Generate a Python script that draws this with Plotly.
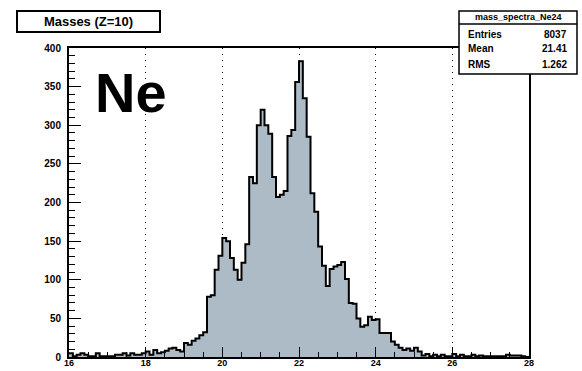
import plotly.graph_objects as go

# Histogram of reconstructed masses for Z=10, 120 bins of width 0.1 from 16 to 28
bin_lo = 16.0
bin_width = 0.1
counts = [
    5, 1, 3, 5, 3, 1, 1, 5, 1, 1,            # 16.0 - 16.9
    1, 1, 3, 3, 5, 2, 5, 3, 3, 5,            # 17.0 - 17.9
    7, 3, 9, 5, 6, 8, 11, 12, 9, 7,          # 18.0 - 18.9
    18, 16, 21, 24, 28, 32, 78, 80, 113, 131,          # 19.0 - 19.9
    154, 150, 128, 113, 100, 122, 146, 233, 225, 300,  # 20.0 - 20.9
    320, 300, 289, 233, 207, 210, 215, 286, 294, 356,  # 21.0 - 21.9
    383, 335, 285, 212, 188, 143, 118, 92, 114, 117,   # 22.0 - 22.9
    119, 123, 101, 70, 69, 50, 39, 41, 52, 48,         # 23.0 - 23.9
    49, 31, 31, 31, 20, 16, 12, 9, 11, 8,              # 24.0 - 24.9
    12, 7, 2, 4, 1, 3, 1, 3, 1, 1,           # 25.0 - 25.9
    4, 1, 3, 1, 1, 3, 1, 2, 1, 1,            # 26.0 - 26.9
    1, 1, 1, 1, 3, 2, 2, 2, 1, 0,            # 27.0 - 27.9
]

x_ticks = [16, 18, 20, 22, 24, 26, 28]
y_ticks = [0, 50, 100, 150, 200, 250, 300, 350, 400]

hist_title = "Masses (Z=10)"
element_label = "Ne"
stats_name = "mass_spectra_Ne24"
stats_rows = [("Entries", "8037"), ("Mean", "21.41"), ("RMS", "1.262")]

# step outline: left edge of every bin, plus the closing right edge
edges = [round(bin_lo + i * bin_width, 3) for i in range(len(counts) + 1)]
step_y = counts + [counts[-1]]

FONT = "Liberation Sans, Arial, sans-serif"
W, H = 582, 371
ML, MR, MT, MB = 69, 53, 48, 14
PW, PH = W - ML - MR, H - MT - MB


def px_x(p):
    return (p - ML) / PW


def px_y(p):
    return (H - MB - p) / PH


fig = go.Figure()
fig.add_trace(go.Scatter(
    x=edges, y=step_y, mode="lines", line_shape="hv",
    line=dict(color="black", width=2),
    fill="tozeroy", fillcolor="#acbbc6",
    hoverinfo="skip", showlegend=False,
))

fig.update_layout(
    width=W, height=H,
    margin=dict(l=ML, r=MR, t=MT, b=MB, autoexpand=False),
    paper_bgcolor="white", plot_bgcolor="white",
    font=dict(family=FONT, color="black"),
    showlegend=False,
)

fig.update_xaxes(
    range=[16, 28], tickvals=x_ticks, ticktext=[str(v) for v in x_ticks],
    ticks="inside", ticklen=10, tickwidth=1, tickcolor="black",
    minor=dict(dtick=0.5, tick0=16, ticks="inside", ticklen=5, tickwidth=1,
               tickcolor="black", showgrid=False),
    showgrid=True, gridcolor="black", gridwidth=1, griddash="1px,5px",
    showline=True, linecolor="black", linewidth=2, mirror=True,
    zeroline=False, automargin=False, ticklabelstandoff=-4,
    tickfont=dict(family=FONT, size=9, color="black", weight="bold"),
)
fig.update_yaxes(
    range=[0, 400], tickvals=y_ticks, ticktext=[str(v) for v in y_ticks],
    ticks="inside", ticklen=12, tickwidth=1, tickcolor="black",
    minor=dict(dtick=10, tick0=0, ticks="inside", ticklen=6, tickwidth=1,
               tickcolor="black", showgrid=False),
    showgrid=False,
    showline=True, linecolor="black", linewidth=2, mirror=True,
    zeroline=False, automargin=False, ticklabelstandoff=4,
    tickfont=dict(family=FONT, size=10, color="black", weight="bold"),
)

# statistics box in the top-right corner
sx0, sx1, sy0, sy1, sep = 459, 577, 11, 74, 24
fig.add_shape(type="rect", xref="paper", yref="paper",
              x0=px_x(sx0), x1=px_x(sx1), y0=px_y(sy1), y1=px_y(sy0),
              line=dict(color="black", width=1.5), fillcolor="white", layer="above")
fig.add_shape(type="line", xref="paper", yref="paper",
              x0=px_x(sx0), x1=px_x(sx1), y0=px_y(sep), y1=px_y(sep),
              line=dict(color="black", width=1.5), layer="above")

annotations = [
    dict(text="<b>" + hist_title + "</b>", xref="paper", yref="paper",
         x=px_x(16), y=px_y(10), xanchor="left", yanchor="top",
         showarrow=False, font=dict(family=FONT, size=13, color="black"),
         bgcolor="white", bordercolor="black", borderwidth=2, borderpad=0,
         width=141, height=19),
    dict(text="<b>" + element_label + "</b>", xref="paper", yref="paper",
         x=px_x(93), y=px_y(92), xanchor="left", yanchor="middle",
         showarrow=False, font=dict(family=FONT, size=56, color="black")),
    dict(text="<b>" + stats_name + "</b>", xref="paper", yref="paper",
         x=px_x((sx0 + sx1) / 2), y=px_y(17.5), xanchor="center", yanchor="middle",
         showarrow=False, font=dict(family=FONT, size=9, color="black")),
]
for i, (name, val) in enumerate(stats_rows):
    yy = px_y(34 + i * 15)
    annotations.append(dict(text="<b>" + name + "</b>", xref="paper", yref="paper",
                            x=px_x(466), y=yy, xanchor="left", yanchor="middle",
                            showarrow=False, font=dict(family=FONT, size=10, color="black")))
    annotations.append(dict(text="<b>" + val + "</b>", xref="paper", yref="paper",
                            x=px_x(569), y=yy, xanchor="right", yanchor="middle",
                            showarrow=False, font=dict(family=FONT, size=10, color="black")))
fig.update_layout(annotations=annotations)

fig.write_html("out.html")
